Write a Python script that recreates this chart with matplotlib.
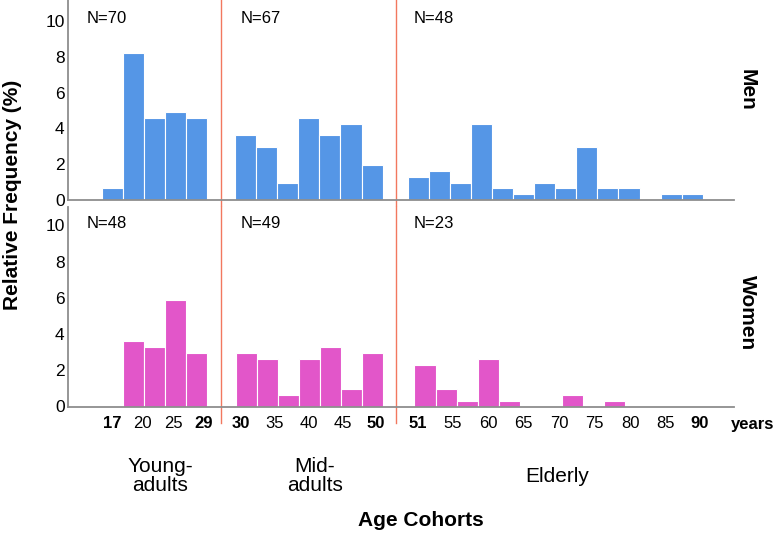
import matplotlib
matplotlib.use("Agg")
import matplotlib.pyplot as plt

plt.rcParams['font.family'] = ['Liberation Sans', 'DejaVu Sans']

# relative frequency (%) per 3-year bin
men_young = [0.66, 8.20, 4.59, 4.92, 4.59]
men_mid = [3.61, 2.95, 0.98, 4.59, 3.61, 4.26, 1.97]
men_old = [1.31, 1.64, 0.98, 4.26, 0.66, 0.33, 0.98, 0.66, 2.95, 0.66, 0.66, 0, 0.33, 0.33]
women_young = [0, 3.61, 3.28, 5.90, 2.95]
women_mid = [2.95, 2.62, 0.66, 2.62, 3.28, 0.98, 2.95]
women_old = [2.30, 0.98, 0.33, 2.62, 0.33, 0, 0, 0.66, 0, 0.33]

men_n = ['N=70', 'N=67', 'N=48']
women_n = ['N=48', 'N=49', 'N=23']

age_labels = ['17', '20', '25', '29', '30', '35', '40', '45', '50',
              '51', '55', '60', '65', '70', '75', '80', '85', '90']
bold_labels = ['17', '29', '30', '50', '51', '90']
cohorts = ['Young-\nadults', 'Mid-\nadults', 'Elderly']

# layout (x in bar-width units)
tick_pos = [0.52, 1.95, 3.40, 4.86, 6.60, 8.22, 9.81, 11.44, 13.02,
            14.98, 16.66, 18.35, 20.01, 21.70, 23.38, 25.07, 26.73, 28.36]
men_starts = [0, 6.33, 14.52]
women_starts = [0, 6.36, 14.84]
divider_x = [5.68, 13.95]
n_label_x = [-0.7, 6.6, 14.82]

blue = '#5596E6'
pink = '#E256C9'
red = '#F2785F'
gray = '#8E8E8E'

W, H = 777, 542
fig = plt.figure(figsize=(W / 100, H / 100), dpi=100)
ax_top = fig.add_axes([67.5 / W, 1 - 200.3 / H, (734 - 67.5) / W, 200.3 / H])
ax_bot = fig.add_axes([67.5 / W, 1 - 406.5 / H, (734 - 67.5) / W, 199.5 / H])


def draw_panel(ax, groups, starts, color, labels, ytop):
    for vals, s in zip(groups, starts):
        xs = [s + i for i in range(len(vals))]
        ax.bar(xs, vals, width=1.0, align='edge', color=color,
               edgecolor='white', linewidth=0.8)
    for lab, x in zip(labels, n_label_x):
        ax.text(x, 10.1, lab, fontsize=12, va='center', ha='left')
    ax.set_xlim(-1.62, 30.0)
    ax.set_ylim(0, ytop)
    ax.set_yticks([0, 2, 4, 6, 8, 10])
    ax.tick_params(axis='y', length=0, pad=2, labelsize=12.5)
    ax.tick_params(axis='x', length=0)
    for side in ['top', 'right']:
        ax.spines[side].set_visible(False)
    for side in ['left', 'bottom']:
        ax.spines[side].set_color(gray)
        ax.spines[side].set_linewidth(1.3)


draw_panel(ax_top, [men_young, men_mid, men_old], men_starts, blue, men_n, 11.15)
draw_panel(ax_bot, [women_young, women_mid, women_old], women_starts, pink, women_n, 11.02)

ax_top.set_xticks([])
ax_bot.set_xticks(tick_pos)
ax_bot.set_xticklabels(age_labels, fontsize=12)
ax_bot.tick_params(axis='x', pad=7)
for t in ax_bot.get_xticklabels():
    if t.get_text() in bold_labels:
        t.set_fontweight('bold')

for x in divider_x:
    ax_top.axvline(x, ymin=-0.04, ymax=1, color=red, lw=1, clip_on=False, zorder=0)
    ax_bot.axvline(x, ymin=-0.083, ymax=1, color=red, lw=1, clip_on=False, zorder=0)


def fx(px):
    return px / W


def fy(py):
    return 1 - py / H


fig.text(fx(753), fy(424), 'years', fontsize=12, fontweight='bold',
         ha='center', va='center')
fig.text(fx(747), fy(90), 'Men', fontsize=15, fontweight='bold',
         rotation=-90, ha='center', va='center')
fig.text(fx(747), fy(313), 'Women', fontsize=15, fontweight='bold',
         rotation=-90, ha='center', va='center')
fig.text(fx(13), fy(195), 'Relative Frequency (%)', fontsize=15,
         fontweight='bold', rotation=90, ha='center', va='center')

for lab, x in zip(cohorts, [160, 315, 557]):
    fig.text(fx(x), fy(476), lab, fontsize=15, ha='center', va='center',
             linespacing=1.05)
fig.text(fx(421), fy(520), 'Age Cohorts', fontsize=15, fontweight='bold',
         ha='center', va='center')

fig.savefig('out.png', dpi=100)
